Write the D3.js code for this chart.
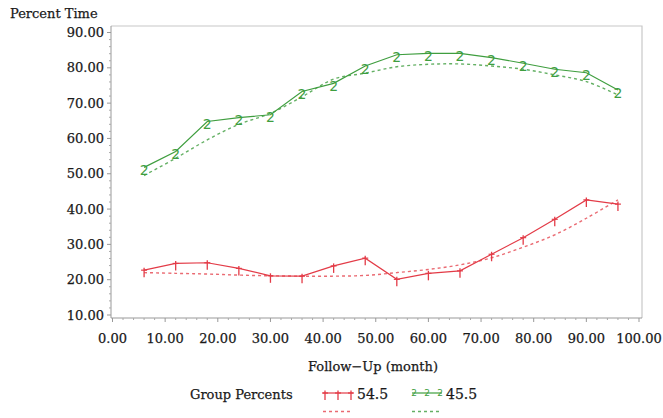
<!DOCTYPE html>
<html>
<head>
<meta charset="utf-8">
<script src="https://cdn.jsdelivr.net/npm/d3@7"></script>
<style>
  html, body { margin: 0; padding: 0; background: #fff; }
  svg { display: block; }
  text { font-family: "DejaVu Serif", serif; fill: #1a1a1a; }
  .lbl { stroke: #1a1a1a; stroke-width: 0.25; }
</style>
</head>
<body>
<svg id="chart" width="663" height="418"></svg>
<script>
// Follow-up months at which group percentages were recorded
const months = [6, 12, 18, 24, 30, 36, 42, 48, 54, 60, 66, 72, 78, 84, 90, 96];

// Group 54.5: observed percent time and smoothed fit
const red_observed = [22.7, 24.6, 24.8, 23.2, 21.1, 21.0, 23.9, 26.1, 20.1, 21.8, 22.5, 27.2, 31.9, 37.1, 42.6, 41.4];
const red_fit      = [22.0, 21.8, 21.6, 21.3, 21.1, 21.0, 21.0, 21.2, 22.0, 22.9, 24.2, 26.2, 29.2, 32.7, 37.4, 42.6];

// Group 45.5: observed percent time and smoothed fit
const green_observed = [51.8, 56.3, 64.8, 65.9, 66.7, 73.3, 75.6, 80.5, 83.7, 84.1, 84.1, 82.9, 81.3, 79.6, 78.6, 73.7];
const green_fit      = [49.5, 54.4, 59.6, 64.0, 67.1, 71.8, 76.8, 78.5, 80.3, 81.0, 81.1, 80.5, 79.6, 78.0, 76.1, 72.3];

const xTicks = [0, 10, 20, 30, 40, 50, 60, 70, 80, 90, 100];
const yTicks = [10, 20, 30, 40, 50, 60, 70, 80, 90];
const groupLabels = ["54.5", "45.5"];

const RED = "#e33b47", RED_FIT = "#ea6a72";
const GREEN = "#3f9e3f", GREEN_FIT = "#64b064";

const svg = d3.select("#chart");
const frame = { left: 111, right: 642, top: 26, bottom: 318 };

const x = d3.scaleLinear().domain([0, 100]).range([112.5, 639]);
const y = d3.scaleLinear().domain([10, 90]).range([315, 32.5]);

// plot frame: light border on top/right
svg.append("path")
  .attr("d", `M${frame.left},${frame.top}H${frame.right}V${frame.bottom}`)
  .attr("fill", "none").attr("stroke", "#c8c8c8").attr("stroke-width", 1.2);

// Y axis with minor ticks
const yAxisG = svg.append("g").attr("transform", `translate(${frame.left},0)`);
yAxisG.append("line").attr("y1", frame.top).attr("y2", frame.bottom)
  .attr("stroke", "#999").attr("stroke-width", 1);
const yMinor = d3.range(10, 90.01, 2).filter(v => v % 10 !== 0);
yAxisG.selectAll(".ymin").data(yMinor).join("line")
  .attr("x1", -2).attr("x2", 0).attr("y1", d => y(d)).attr("y2", d => y(d))
  .attr("stroke", "#aaa");
yAxisG.selectAll(".ymaj").data(yTicks).join("line")
  .attr("x1", -4).attr("x2", 0).attr("y1", d => y(d)).attr("y2", d => y(d))
  .attr("stroke", "#999");
yAxisG.selectAll(".ylab").data(yTicks).join("text")
  .attr("class", "lbl")
  .attr("x", -7).attr("y", d => y(d)).attr("dy", "0.36em")
  .attr("text-anchor", "end").attr("font-size", 13)
  .text(d => d3.format(".2f")(d));

// X axis with minor ticks
const xAxisG = svg.append("g").attr("transform", `translate(0,${frame.bottom})`);
xAxisG.append("line").attr("x1", frame.left).attr("x2", frame.right)
  .attr("stroke", "#999").attr("stroke-width", 1);
const xMinor = d3.range(0, 100.01, 2).filter(v => v % 10 !== 0);
xAxisG.selectAll(".xmin").data(xMinor).join("line")
  .attr("x1", d => x(d)).attr("x2", d => x(d)).attr("y1", 0).attr("y2", 2)
  .attr("stroke", "#aaa");
xAxisG.selectAll(".xmaj").data(xTicks).join("line")
  .attr("x1", d => x(d)).attr("x2", d => x(d)).attr("y1", 0).attr("y2", 4)
  .attr("stroke", "#999");
xAxisG.selectAll(".xlab").data(xTicks).join("text")
  .attr("class", "lbl")
  .attr("x", d => x(d)).attr("y", 25)
  .attr("text-anchor", "middle").attr("font-size", 13)
  .text(d => d3.format(".2f")(d));

// axis titles
svg.append("text").attr("class", "lbl").attr("x", 10).attr("y", 18).attr("font-size", 13).text("Percent Time");
svg.append("text").attr("class", "lbl").attr("x", 373).attr("y", 371).attr("text-anchor", "middle")
  .attr("font-size", 13).text("Follow\u2212Up (month)");

// series
const line = d3.line().x(d => x(d[0])).y(d => y(d[1]));
const smooth = d3.line().x(d => x(d[0])).y(d => y(d[1])).curve(d3.curveCatmullRom.alpha(0.5));

const pts = vals => months.map((m, i) => [m, vals[i]]);

svg.append("path").datum(pts(red_fit)).attr("d", smooth)
  .attr("fill", "none").attr("stroke", RED_FIT).attr("stroke-width", 1.4).attr("stroke-dasharray", "3,3");
svg.append("path").datum(pts(green_fit)).attr("d", smooth)
  .attr("fill", "none").attr("stroke", GREEN_FIT).attr("stroke-width", 1.4).attr("stroke-dasharray", "3,3");

svg.append("path").datum(pts(red_observed)).attr("d", line)
  .attr("fill", "none").attr("stroke", RED).attr("stroke-width", 1.2);
svg.append("path").datum(pts(green_observed)).attr("d", line)
  .attr("fill", "none").attr("stroke", GREEN).attr("stroke-width", 1.2);

// plus markers for group 54.5
function plusMarker(g, cx, cy, color) {
  g.append("line").attr("x1", cx - 3).attr("x2", cx + 3).attr("y1", cy).attr("y2", cy)
    .attr("stroke", color).attr("stroke-width", 1.2);
  g.append("line").attr("x1", cx).attr("x2", cx).attr("y1", cy - 2.5).attr("y2", cy + 7)
    .attr("stroke", color).attr("stroke-width", 1.3);
}
const redMarks = svg.append("g");
pts(red_observed).forEach(d => plusMarker(redMarks, x(d[0]), y(d[1]), RED));

// "2" glyph markers for group 45.5
function twoMarker(g, cx, cy, color) {
  g.append("text").attr("x", cx).attr("y", cy - 2.5).attr("dy", "0.72em")
    .attr("text-anchor", "middle").attr("font-size", 14)
    .style("font-family", "'DejaVu Sans', sans-serif").style("fill", color)
    .text("2");
}
const greenMarks = svg.append("g");
pts(green_observed).forEach(d => twoMarker(greenMarks, x(d[0]), y(d[1]), GREEN));

// legend
const lg = svg.append("g");
lg.append("text").attr("class", "lbl").attr("x", 190).attr("y", 399).attr("font-size", 13).text("Group Percents");
const legendItems = [
  { label: groupLabels[0], x0: 323, color: RED, fit: RED_FIT, kind: "plus" },
  { label: groupLabels[1], x0: 412, color: GREEN, fit: GREEN_FIT, kind: "two" }
];
legendItems.forEach(it => {
  lg.append("line").attr("x1", it.x0).attr("x2", it.x0 + 30).attr("y1", 393).attr("y2", 393)
    .attr("stroke", it.color).attr("stroke-width", 1.2);
  [2, 15, 28].forEach(o => {
    if (it.kind === "plus") plusMarker(lg, it.x0 + o, 393, it.color);
    else {
      lg.append("text").attr("x", it.x0 + o).attr("y", 390).attr("dy", "0.72em")
        .attr("text-anchor", "middle").attr("font-size", 9)
        .style("font-family", "'DejaVu Sans', sans-serif").style("fill", it.color).text("2");
    }
  });
  lg.append("line").attr("x1", it.x0).attr("x2", it.x0 + 30).attr("y1", 411.5).attr("y2", 411.5)
    .attr("stroke", it.fit).attr("stroke-width", 1.3).attr("stroke-dasharray", "3,3");
  lg.append("text").attr("class", "lbl").attr("x", it.x0 + 34).attr("y", 399).attr("font-size", 14).text(it.label);
});
</script>
</body>
</html>
